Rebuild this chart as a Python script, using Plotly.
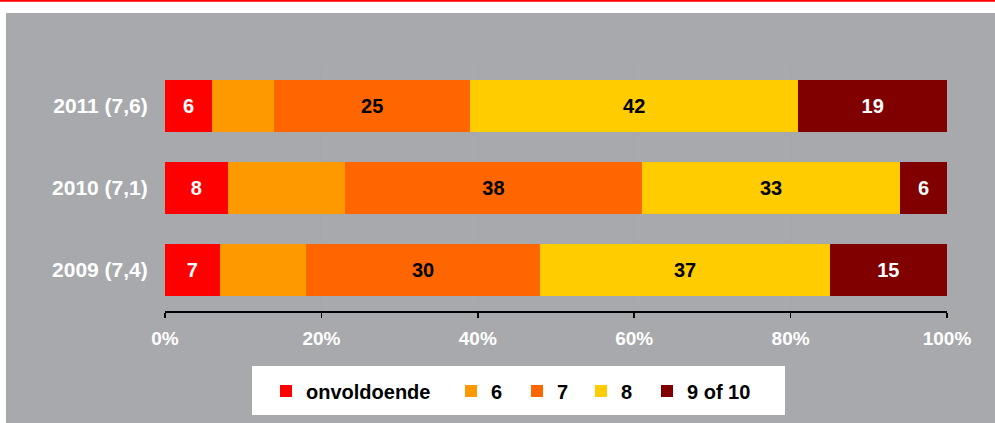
import plotly.graph_objects as go

# ---- data ----
categories = ["2011 (7,6)", "2010 (7,1)", "2009 (7,4)"]
series_names = ["onvoldoende", "6", "7", "8", "9 of 10"]
onvoldoende = [6, 8, 7]
score_6 = [8, 15, 11]
score_7 = [25, 38, 30]
score_8 = [42, 33, 37]
score_9_10 = [19, 6, 15]
x_tick_values = [0, 20, 40, 60, 80, 100]
x_tick_labels = ["0%", "20%", "40%", "60%", "80%", "100%"]

series_values = [onvoldoende, score_6, score_7, score_8, score_9_10]
series_colors = ["#FF0000", "#FF9900", "#FF6600", "#FFCC00", "#800000"]
label_colors = ["white", None, "black", "black", "white"]
legend_widths = [140, 21, 19, 21, 70]

FONT = "Liberation Sans, Arial, sans-serif"
W, H = 995, 423
ML, MR, MT, MB = 165, 48, 65, 112
PW = W - ML - MR
PH = H - MT - MB


def px_x(p):
    return (p - ML) / PW


def px_y(p):
    return (H - MB - p) / PH


fig = go.Figure()
for name, vals, col, lcol, lw in zip(series_names, series_values, series_colors,
                                     label_colors, legend_widths):
    fig.add_trace(go.Bar(
        y=categories,
        x=vals,
        name=name,
        orientation="h",
        marker=dict(color=col, line=dict(width=0)),
        text=[str(v) for v in vals] if lcol else None,
        textposition="inside" if lcol else "none",
        insidetextanchor="middle",
        textangle=0,
        insidetextfont=dict(family=FONT, size=20, color=lcol or "black", weight="bold"),
        legendwidth=lw,
        hoverinfo="skip",
    ))

shapes = [
    # gray background panel
    dict(type="rect", xref="paper", yref="paper", layer="below",
         x0=px_x(6), x1=px_x(W + 5), y0=px_y(H + 5), y1=px_y(13),
         fillcolor="#A8A9AD", line=dict(width=0)),
    # red top line
    dict(type="line", xref="paper", yref="paper",
         x0=px_x(-2), x1=px_x(W + 2), y0=px_y(0.8), y1=px_y(0.8),
         line=dict(color="#FF0000", width=2)),
    # legend white box
    dict(type="rect", xref="paper", yref="paper", layer="above",
         x0=px_x(252), x1=px_x(785), y0=px_y(415), y1=px_y(366),
         fillcolor="white", line=dict(width=0)),
]

fig.update_layout(
    width=W, height=H,
    margin=dict(l=ML, r=MR, t=MT, b=MB, pad=0),
    paper_bgcolor="white",
    plot_bgcolor="white",
    barmode="stack",
    bargap=0.354,
    font=dict(family=FONT, size=20, color="white"),
    shapes=shapes,
    showlegend=True,
    legend=dict(
        orientation="h",
        traceorder="normal",
        xanchor="left", x=px_x(266),
        yanchor="middle", y=px_y(391),
        bgcolor="rgba(0,0,0,0)",
        borderwidth=0,
        font=dict(family=FONT, size=20, color="black", weight="bold"),
        itemwidth=30,
    ),
    xaxis=dict(
        range=[0, 100],
        tickvals=x_tick_values,
        ticktext=x_tick_labels,
        showgrid=True, gridcolor="#A6A6A6", gridwidth=1,
        zeroline=False,
        showline=True, linecolor="black", linewidth=1.5,
        ticks="outside", ticklen=5, tickwidth=1.5, tickcolor="black",
        ticklabelstandoff=5,
        tickfont=dict(family=FONT, size=19, color="white", weight="bold"),
        fixedrange=True,
    ),
    yaxis=dict(
        categoryorder="array", categoryarray=categories,
        autorange="reversed",
        showgrid=False, zeroline=False, showline=False,
        ticks="outside", ticklen=12, tickcolor="rgba(0,0,0,0)",
        tickfont=dict(family=FONT, size=21, color="white", weight="bold"),
        fixedrange=True,
    ),
)

fig.write_html(
    "out.html",
    config={"displayModeBar": False, "staticPlot": True},
    post_script="document.body.style.margin='0';document.body.style.padding='0';",
)
